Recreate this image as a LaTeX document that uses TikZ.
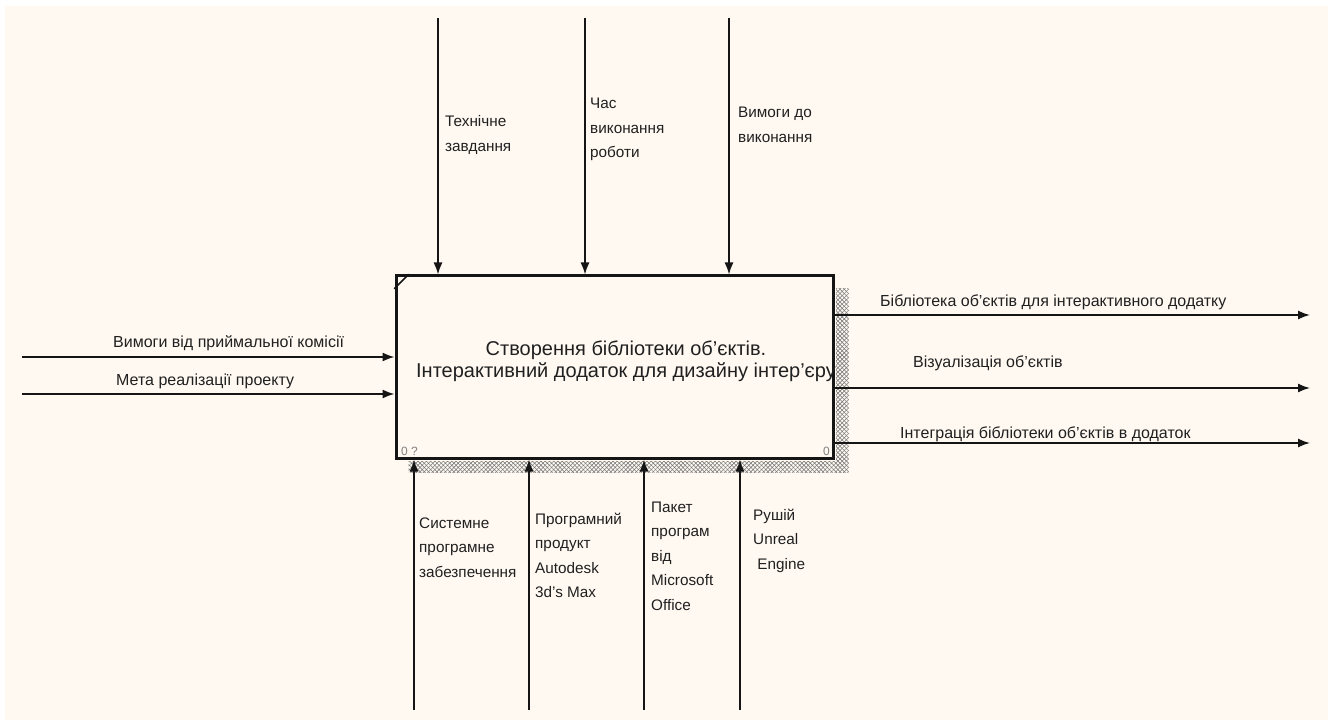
\documentclass[tikz,border=0pt]{standalone}
\usepackage{fontspec}
\setmainfont{Liberation Sans}
\usetikzlibrary{arrows.meta,patterns.meta}
\definecolor{bg}{HTML}{FFF9F2}
\definecolor{ink}{HTML}{151515}
\definecolor{txt}{HTML}{202020}
\definecolor{hatch}{HTML}{7A7A7A}
\tikzset{
  conn/.style={draw=ink, line width=1.6pt, -{Latex[length=12pt,width=9pt]}},
  lbl/.style={font=\fontsize{15.3}{24.5}\selectfont, text=txt, inner sep=0pt, align=left, anchor=base west},
  hlbl/.style={font=\fontsize{16}{19}\selectfont, text=txt, inner sep=0pt, anchor=base west},
  func/.style={draw=ink, line width=3pt, fill=bg, minimum width=437pt, minimum height=182pt, inner sep=0pt},
  mtext/.style={font=\fontsize{20}{22}\selectfont, text=txt, inner sep=0pt, align=center, anchor=base},
  corner/.style={font=\fontsize{12}{13}\selectfont, text=gray, inner sep=0pt, anchor=base west},
  shade/.style={pattern={Lines[angle=45,distance=3pt,line width=0.6pt]}, pattern color=hatch},
  shadeb/.style={pattern={Lines[angle=-45,distance=3pt,line width=0.6pt]}, pattern color=hatch}
}
\begin{document}
\begin{tikzpicture}[x=1pt,y=-1pt]
\useasboundingbox (0,0) rectangle (1334,722);
\fill[white] (0,0) rectangle (1334,722);
\fill[bg] (5,6) rectangle (1328,720);

% function box
\node[func] (box) at (614.5,367) {};
% shadow
\path[shade] ([xshift=1.5pt,yshift=-14pt]box.north east) rectangle ([xshift=14pt,yshift=-13pt]box.south east);
\path[shadeb] ([xshift=1.5pt,yshift=-14pt]box.north east) rectangle ([xshift=14pt,yshift=-13pt]box.south east);
\path[shade] ([xshift=14pt,yshift=-1.5pt]box.south west) rectangle ([xshift=1.5pt,yshift=-13pt]box.south east);
\path[shadeb] ([xshift=14pt,yshift=-1.5pt]box.south west) rectangle ([xshift=1.5pt,yshift=-13pt]box.south east);
\draw[ink, line width=1.5pt, line cap=round] ([yshift=-14pt]box.north west) -- ([xshift=14pt]box.north west);

\node[mtext] (title) at (626,377) {Створення бібліотеки об'єктів.\\Інтерактивний додаток для дизайну інтер'єру};
\node[corner] (num1) at (401,455) {0 ?};
\node[corner] (num2) at (823,455) {0};

% controls (top)
\coordinate (t1) at (438,18);
\coordinate (t2) at (585,18);
\coordinate (t3) at (729,18);
\draw[conn] (t1) -- (t1 |- box.north);
\draw[conn] (t2) -- (t2 |- box.north);
\draw[conn] (t3) -- (t3 |- box.north);
\node[lbl] (lt1) at (445,151.5) {Технічне\\завдання};
\node[lbl] (lt2) at (590,158) {Час\\виконання\\роботи};
\node[lbl] (lt3) at (738,142.5) {Вимоги до\\виконання};

% inputs (left)
\coordinate (l1) at (22,357);
\coordinate (l2) at (22,394);
\draw[conn] (l1) -- (l1 -| box.west);
\draw[conn] (l2) -- (l2 -| box.west);
\node[hlbl] (ll1) at (113,347) {Вимоги від приймальної комісії};
\node[hlbl] (ll2) at (116,385) {Мета реалізації проекту};

% outputs (right)
\coordinate (r1) at (1310,315);
\coordinate (r2) at (1310,388);
\coordinate (r3) at (1310,443);
\draw[conn] (r1 -| box.east) -- (r1);
\draw[conn] (r2 -| box.east) -- (r2);
\draw[conn] (r3 -| box.east) -- (r3);
\node[hlbl] (lr1) at (880,306) {Бібліотека об'єктів для інтерактивного додатку};
\node[hlbl] (lr2) at (913,367) {Візуалізація об'єктів};
\node[hlbl] (lr3) at (900,438) {Інтеграція бібліотеки об'єктів в додаток};

% mechanisms (bottom)
\coordinate (b1) at (414,710);
\coordinate (b2) at (529,710);
\coordinate (b3) at (644,710);
\coordinate (b4) at (740,710);
\draw[conn] (b1) -- (b1 |- box.south);
\draw[conn] (b2) -- (b2 |- box.south);
\draw[conn] (b3) -- (b3 |- box.south);
\draw[conn] (b4) -- (b4 |- box.south);
\node[lbl] (lb1) at (419,577) {Системне\\програмне\\забезпечення};
\node[lbl] (lb2) at (535,597.5) {Програмний\\продукт\\Autodesk\\3d’s Max};
\node[lbl] (lb3) at (651,610) {Пакет\\програм\\від\\Microsoft\\Office};
\node[lbl] (lb4) at (753,569) {Рушій\\Unreal\\\ Engine};
\end{tikzpicture}
\end{document}
